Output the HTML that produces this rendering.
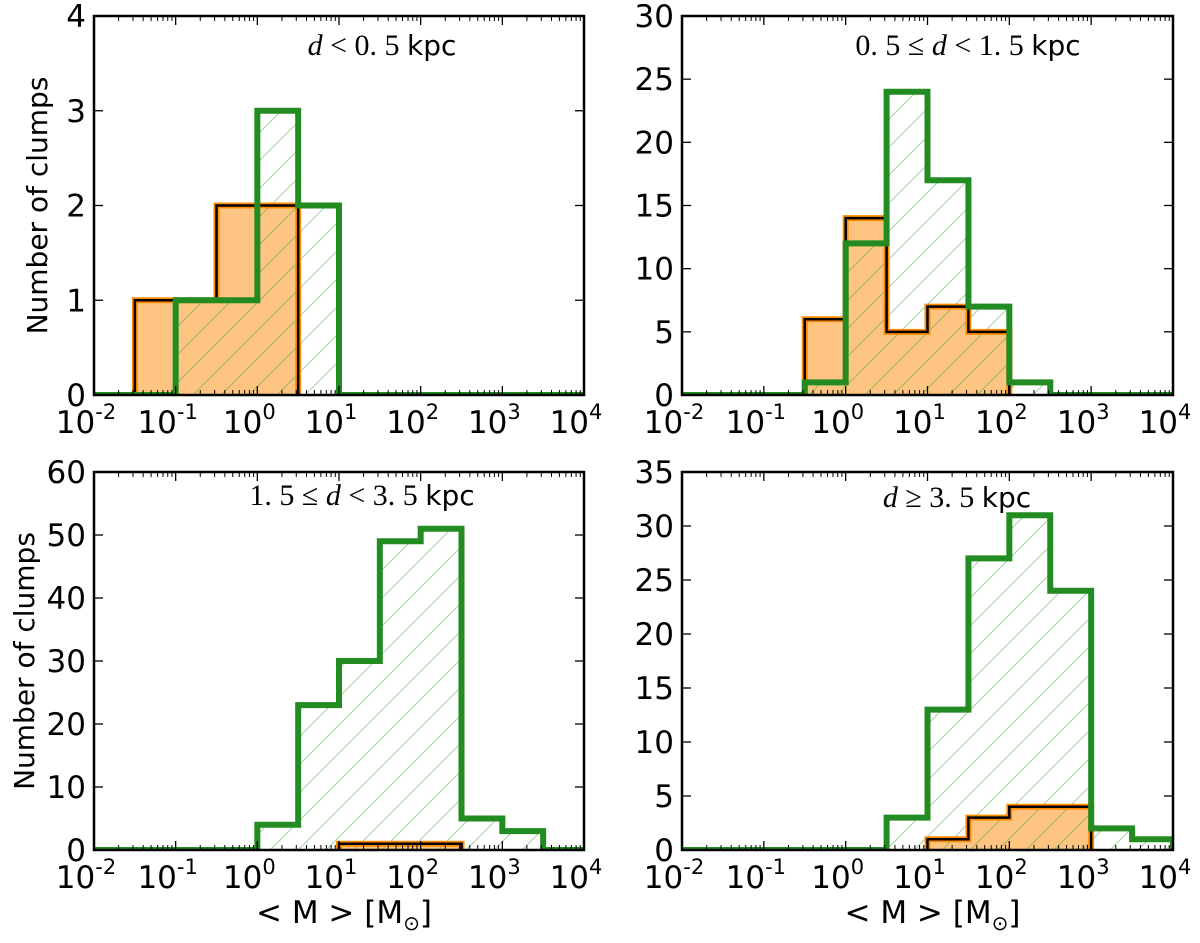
<!DOCTYPE html>
<html><head><meta charset="utf-8"><style>
html,body{margin:0;padding:0;background:#fff;}
svg{display:block;font-family:"DejaVu Sans","Liberation Sans",sans-serif;}
</style></head><body>
<svg id="fig" width="1200" height="943" viewBox="0 0 1200 943">
<defs>
<pattern id="hatch" patternUnits="userSpaceOnUse" width="28" height="28">
<path d="M-7,7 L7,-7 M0,28 L28,0 M21,35 L35,21" stroke="#2ca02c" stroke-opacity="0.45" stroke-width="1"/>
</pattern>
</defs>
</svg>
<script>
// bin edges in log10(M) (half-decade bins)
const binEdges = [-2,-1.5,-1,-0.5,0,0.5,1,1.5,2,2.5,3,3.5,4];
const xTickLabels = ["-2","-1","0","1","2","3","4"];
// panel 1: d < 0.5 kpc
const p1Orange = [0,1,1,2,2,0,0,0,0,0,0,0];
const p1Green  = [0,0,1,1,3,2,0,0,0,0,0,0];
const p1YTicks = [0,1,2,3,4];
// panel 2: 0.5 <= d < 1.5 kpc
const p2Orange = [0,0,0,6,14,5,7,5,0,0,0,0];
const p2Green  = [0,0,0,1,12,24,17,7,1,0,0,0];
const p2YTicks = [0,5,10,15,20,25,30];
// panel 3: 1.5 <= d < 3.5 kpc
const p3Orange = [0,0,0,0,0,0,1,1,1,0,0,0];
const p3Green  = [0,0,0,0,4,23,30,49,51,5,3,0];
const p3YTicks = [0,10,20,30,40,50,60];
// panel 4: d >= 3.5 kpc
const p4Orange = [0,0,0,0,0,0,1,3,4,4,0,0];
const p4Green  = [0,0,0,0,0,3,13,27,31,24,2,1];
const p4YTicks = [0,5,10,15,20,25,30,35];

const NS="http://www.w3.org/2000/svg";
const svg=document.getElementById('fig');
function mk(tag,attrs,parent){const e=document.createElementNS(NS,tag);for(const k in attrs)e.setAttribute(k,attrs[k]);(parent||svg).appendChild(e);return e;}

function stepPath(vals,xs,ys){
  let d="M"+xs(binEdges[0])+","+ys(0);
  for(let i=0;i<vals.length;i++){
    d+=" L"+xs(binEdges[i])+","+ys(vals[i])+" L"+xs(binEdges[i+1])+","+ys(vals[i]);
  }
  d+=" L"+xs(binEdges[binEdges.length-1])+","+ys(0);
  return d;
}
function barsPath(vals,xs,ys){
  let d="";let open=false;
  for(let i=0;i<vals.length;i++){
    if(vals[i]>0){
      if(!open){d+=" M"+xs(binEdges[i])+","+ys(0);open=true;}
      d+=" L"+xs(binEdges[i])+","+ys(vals[i])+" L"+xs(binEdges[i+1])+","+ys(vals[i]);
    } else if(open){d+=" L"+xs(binEdges[i])+","+ys(0);open=false;}
  }
  if(open)d+=" L"+xs(binEdges[binEdges.length-1])+","+ys(0);
  return d;
}

function panel(cfg){
  const {L,R,T,B,ymax,yTicks,orange,green,label,lx,ly,ylab,ylx,xlab,name}=cfg;
  const g=mk('g',{});
  
  
  const xs=v=>L+(v+2)/6*(R-L);
  const ys=v=>B-v/ymax*(B-T);
  const cp='clip-'+name;
  const c=mk('clipPath',{id:cp},g);mk('rect',{x:L,y:T,width:R-L,height:B-T},c);
  const gp=mk('g',{'clip-path':'url(#'+cp+')'},g);
  const of=mk('path',{d:barsPath(orange,xs,ys),fill:'#fdc581',stroke:'none'},gp);
  
  
  const gf=mk('path',{d:stepPath(green,xs,ys),fill:'url(#hatch)',stroke:'none'},gp);
  
  
  const oo=mk('path',{d:barsPath(orange,xs,ys),fill:'none',stroke:'#ff8c00','stroke-width':6},gp);
  
  
  const ob=mk('path',{d:barsPath(orange,xs,ys),fill:'none',stroke:'#000','stroke-width':2.5},gp);
  
  
  const gl=mk('path',{d:stepPath(green,xs,ys),fill:'none',stroke:'#228b22','stroke-width':6,'stroke-linejoin':'miter'},gp);
  
  
  for(let k=0;k<xTickLabels.length;k++){
    const dv=+xTickLabels[k];const x=xs(dv);
    mk('line',{x1:x,y1:B,x2:x,y2:B-9,stroke:'#000','stroke-width':1.3},g);
    mk('line',{x1:x,y1:T,x2:x,y2:T+9,stroke:'#000','stroke-width':1.3},g);
    if(dv<4){for(let m=2;m<10;m++){const xm=xs(dv+Math.log10(m));
      mk('line',{x1:xm,y1:B,x2:xm,y2:B-5,stroke:'#000','stroke-width':1},g);
      mk('line',{x1:xm,y1:T,x2:xm,y2:T+5,stroke:'#000','stroke-width':1},g);}}
    const t=mk('text',{x:x-8,y:B+38,'font-size':31,'text-anchor':'middle'},g);
    t.textContent="10";
    const s=mk('tspan',{dy:-14,'font-size':21},t);s.textContent=xTickLabels[k];
    
    
  }
  for(const v of yTicks){
    const y=ys(v);
    mk('line',{x1:L,y1:y,x2:L+9,y2:y,stroke:'#000','stroke-width':1.3},g);
    mk('line',{x1:R,y1:y,x2:R-9,y2:y,stroke:'#000','stroke-width':1.3},g);
    const t=mk('text',{x:L-8,y:y+11,'font-size':31,'text-anchor':'end'},g);
    t.textContent=v;
    
    
  }
  const fr=mk('rect',{x:L,y:T,width:R-L,height:B-T,fill:'none',stroke:'#000','stroke-width':2.5},g);
  
  
  const lt=mk('text',{x:lx,y:ly,'font-size':30,'text-anchor':'middle','font-family':'"Liberation Serif",serif'},g);
  lt.innerHTML=label;
  
  
  if(ylab){
    const yt=mk('text',{x:0,y:0,'font-size':28,'text-anchor':'middle',transform:'translate('+ylx+','+((T+B)/2)+') rotate(-90)'},g);
    yt.textContent='Number of clumps';
    
    
  }
  if(xlab){
    const xt=mk('text',{x:(L+R)/2+5,y:B+73,'font-size':31,'text-anchor':'middle'},g);
    xt.innerHTML='&lt; M &gt;  [M<tspan font-size="20" dy="7">⊙</tspan><tspan dy="-7">]</tspan>';
    
    
  }
}
const sans='<tspan font-family="DejaVu Sans,Liberation Sans,sans-serif" font-size="28">kpc</tspan>';
const it=s=>'<tspan font-style="italic">'+s+'</tspan>';
panel({name:'panel-near',L:94,R:584,T:16,B:395,ymax:4,yTicks:p1YTicks,orange:p1Orange,green:p1Green,
  label:it('d')+' &lt; 0. 5 '+sans,lx:382,ly:55,ylab:true,ylx:47});
panel({name:'panel-mid',L:682,R:1173,T:16,B:395,ymax:30,yTicks:p2YTicks,orange:p2Orange,green:p2Green,
  label:'0. 5 ≤ '+it('d')+' &lt; 1. 5 '+sans,lx:968,ly:55});
panel({name:'panel-far',L:94,R:584,T:472,B:850,ymax:60,yTicks:p3YTicks,orange:p3Orange,green:p3Green,
  label:'1. 5 ≤ '+it('d')+' &lt; 3. 5 '+sans,lx:362,ly:505,ylab:true,ylx:34,xlab:true});
panel({name:'panel-farthest',L:682,R:1173,T:472,B:850,ymax:35,yTicks:p4YTicks,orange:p4Orange,green:p4Green,
  label:it('d')+' ≥ 3. 5 '+sans,lx:957,ly:507,xlab:true});
</script>
</body></html>
